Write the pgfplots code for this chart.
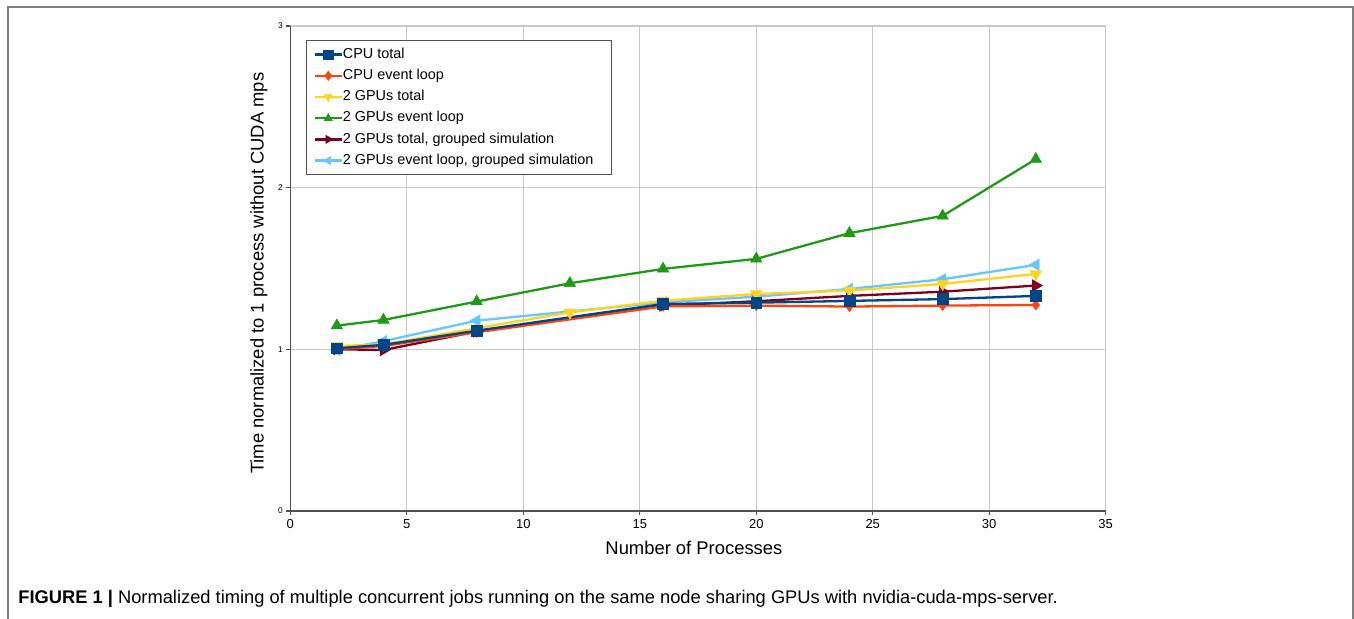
\documentclass[border=0pt]{standalone}
\usepackage{fontspec}
\setmainfont{Liberation Sans}
\usepackage{pgfplots}
\pgfplotsset{compat=1.18}
\definecolor{cblue}{HTML}{004586}
\definecolor{cred}{HTML}{FF420E}
\definecolor{cyellow}{HTML}{FFD320}
\definecolor{cgreen}{HTML}{1E9A16}
\definecolor{cdred}{HTML}{7E0021}
\definecolor{clblue}{HTML}{66C6FF}
\definecolor{gridgray}{HTML}{C8C8C8}
\definecolor{axisgray}{HTML}{505050}
\definecolor{framegray}{HTML}{808080}
\begin{document}
\begin{tikzpicture}
\useasboundingbox (0,0) rectangle (677pt,309pt);
\draw[framegray, line width=0.75pt] (4pt,-2pt) -- (4pt,305.5pt) -- (676.5pt,305.5pt) -- (676.5pt,-2pt);
\begin{axis}[
  at={(145.15pt,53.55pt)}, anchor=south west,
  scale only axis, width=407.7pt, height=242.5pt,
  xmin=0, xmax=35, ymin=0, ymax=3,
  xtick={0,5,...,35}, ytick={0,1,2,3},
  grid=major, major grid style={color=gridgray, line width=0.65pt},
  axis lines=left, axis line style={-, color=axisgray, line width=0.8pt},
  tick align=outside, major tick length=2pt,
  tick style={color=axisgray, line width=0.6pt},
  /pgf/number format/assume math mode=true,
  xticklabel style={font=\fontsize{6.5}{7}\selectfont, inner sep=0pt, yshift=-2pt},
  yticklabel style={font=\fontsize{4.2}{5}\selectfont, inner sep=0pt, xshift=-1.6pt},
  xlabel={Number of Processes},
  xlabel style={at={(axis description cs:0.495,-0.0899)}, anchor=base, inner sep=0pt, font=\fontsize{9.2}{11}\selectfont},
  ylabel={Time normalized to 1 process without CUDA mps},
  ylabel style={at={(axis description cs:-0.0328,0.49)}, anchor=base, inner sep=0pt, font=\fontsize{9.2}{11}\selectfont},
  legend style={at={(0.0193,0.971)}, anchor=north west, draw=axisgray, line width=0.6pt,
    inner sep=3.5pt, font=\fontsize{7.2}{8}\selectfont, row sep=3.6pt,
    nodes={inner sep=0pt, text height=5.4pt, text depth=1.6pt},
    /tikz/column 2/.style={column sep=1.5pt}},
  legend cell align=left,
  reverse legend,
  legend image code/.code={\draw[mark repeat=2,mark phase=2] plot coordinates {(0pt,0pt)(6.75pt,0pt)(13.5pt,0pt)};},
  legend image post style={mark size=2.3pt},
  every axis plot/.append style={line width=1.15pt},
]
\addplot[color=clblue, mark=triangle*, mark size=3.3pt, mark options={rotate=90, line width=0.3pt}]
  coordinates {(2,0.995)(4,1.05)(8,1.177)(16,1.29)(20,1.325)(24,1.373)(28,1.433)(32,1.522)};
\addlegendentry{2 GPUs event loop, grouped simulation\hspace*{5.5pt}\mbox{}}
\addplot[color=cdred, mark=triangle*, mark size=3.3pt, mark options={rotate=-90, line width=0.3pt}]
  coordinates {(2,1.0)(4,0.995)(8,1.11)(16,1.27)(20,1.297)(24,1.33)(28,1.356)(32,1.394)};
\addlegendentry{2 GPUs total, grouped simulation}
\addplot[color=cgreen, mark=triangle*, mark size=3.3pt, mark options={line width=0.3pt}]
  coordinates {(2,1.146)(4,1.181)(8,1.295)(12,1.408)(16,1.497)(20,1.559)(24,1.718)(28,1.825)(32,2.176)};
\addlegendentry{2 GPUs event loop}
\addplot[color=cyellow, mark=triangle*, mark size=3.3pt, mark options={rotate=180, line width=0.3pt}]
  coordinates {(2,1.02)(4,1.03)(8,1.13)(12,1.228)(16,1.30)(20,1.342)(24,1.363)(28,1.404)(32,1.466)};
\addlegendentry{2 GPUs total}
\addplot[color=cred, mark=diamond*, mark size=2.5pt, mark options={line width=0.3pt}]
  coordinates {(2,1.0)(4,1.02)(8,1.105)(16,1.265)(20,1.27)(24,1.264)(28,1.27)(32,1.274)};
\addlegendentry{CPU event loop}
\addplot[color=cblue, mark=square*, mark size=2.7pt, mark options={line width=0.3pt}]
  coordinates {(2,1.006)(4,1.027)(8,1.115)(16,1.28)(20,1.288)(24,1.299)(28,1.31)(32,1.33)};
\addlegendentry{CPU total}
\end{axis}
\node[anchor=base west, inner sep=0pt, font=\fontsize{9.15}{10}\selectfont] at (9pt,7.25pt)
  {\textbf{FIGURE 1 |} Normalized timing of multiple concurrent jobs running on the same node sharing GPUs with nvidia-cuda-mps-server.};
\end{tikzpicture}
\end{document}
